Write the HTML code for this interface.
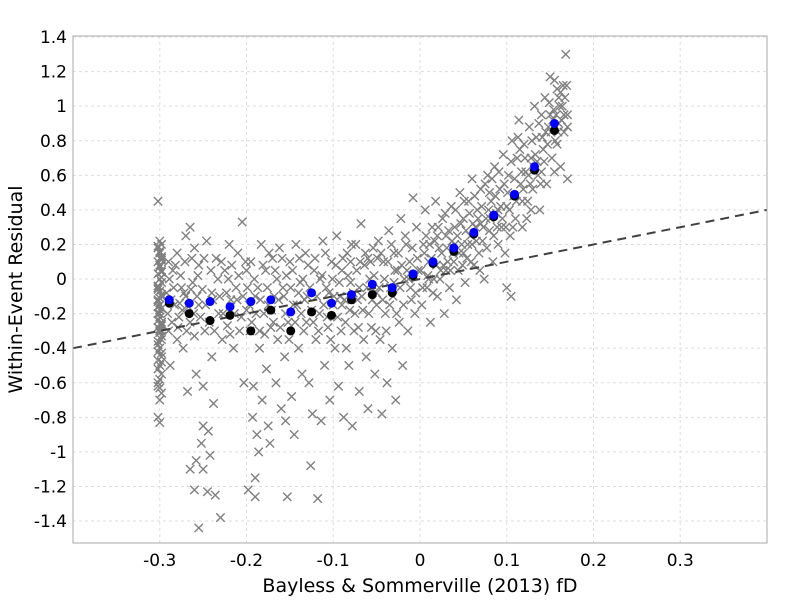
<!DOCTYPE html>
<html><head><meta charset="utf-8"><style>
body{margin:0;background:#fff}
svg text{font-family:"DejaVu Sans","Liberation Sans",sans-serif;fill:#000}
</style></head><body>
<svg id="chart" width="800" height="600"></svg>
<script>
const xTicks=[-0.3,-0.2,-0.1,0,0.1,0.2,0.3];
const yTicks=[-1.4,-1.2,-1,-0.8,-0.6,-0.4,-0.2,0,0.2,0.4,0.6,0.8,1,1.2,1.4];
const binX=[-0.289,-0.266,-0.242,-0.219,-0.195,-0.172,-0.149,-0.125,-0.102,-0.079,-0.055,-0.032,-0.008,0.015,0.039,0.062,0.085,0.109,0.132,0.155];
const binMeanBlue=[-0.12,-0.14,-0.13,-0.16,-0.13,-0.12,-0.19,-0.08,-0.14,-0.09,-0.03,-0.05,0.03,0.10,0.18,0.27,0.37,0.49,0.65,0.90];
const binMeanBlack=[-0.14,-0.20,-0.24,-0.21,-0.30,-0.18,-0.30,-0.19,-0.21,-0.12,-0.09,-0.08,0.02,0.09,0.16,0.26,0.36,0.48,0.63,0.86];
const trendX=[-0.4,0.4];
const trendY=[-0.4,0.4];
const colY=[0.45,0.22,0.2,0.18,0.15,0.12,0.1,0.08,0.05,0.03,0,-0.02,-0.05,-0.07,-0.1,-0.12,-0.15,-0.17,-0.2,-0.22,-0.25,-0.28,-0.3,-0.33,-0.36,-0.4,-0.43,-0.47,-0.5,-0.55,-0.6,-0.63,-0.66,-0.8,-0.83,0.13,-0.04,-0.18,-0.27,-0.38,0.07,-0.09,-0.24,0.16,0.01,-0.13,-0.31,-0.45,-0.52,-0.58,0.11,-0.06,-0.2,-0.35,0.19,-0.11,-0.26,-0.42,-0.7,0.04,-0.16,-0.29,-0.48,-0.62];
const scatterPts=[[-0.29,0.1],[-0.29,-0.3],[-0.288,-0.5],[-0.285,0.05],[-0.283,-0.15],[-0.28,-0.35],[-0.28,0.15],[-0.278,-0.22],[-0.275,-0.05],[-0.273,-0.4],[-0.27,0.25],[-0.27,-0.1],[-0.268,-0.65],[-0.265,0.3],[-0.265,-0.25],[-0.262,-0.02],[-0.26,0.18],[-0.26,-0.33],[-0.258,-0.55],[-0.255,-0.15],[-0.255,0.08],[-0.252,-0.95],[-0.25,-1.1],[-0.25,-0.62],[-0.248,-0.3],[-0.246,0.22],[-0.245,-1.23],[-0.244,-0.88],[-0.242,-1.02],[-0.24,-0.08],[-0.24,-0.45],[-0.238,-0.72],[-0.236,-1.25],[-0.235,0.12],[-0.232,-0.2],[-0.23,-1.38],[-0.228,-0.35],[-0.225,0.05],[-0.222,-0.27],[-0.22,0.2],[-0.218,-0.12],[-0.215,-0.4],[-0.212,-0.05],[-0.21,0.15],[-0.208,-0.3],[-0.205,0.33],[-0.203,-0.6],[-0.2,-0.18],[-0.255,-1.44],[-0.26,-1.22],[-0.258,-1.05],[-0.25,-0.85],[-0.265,-1.1],
[-0.198,-1.22],[-0.196,-0.3],[-0.195,0.1],[-0.193,-0.8],[-0.192,-0.62],[-0.19,-1.15],[-0.19,-1.26],[-0.188,-0.9],[-0.187,-0.05],[-0.186,-1.0],[-0.185,-0.4],[-0.183,0.2],[-0.182,-0.7],[-0.18,-0.2],[-0.178,0.05],[-0.177,-0.52],[-0.175,-0.85],[-0.173,-0.95],[-0.172,-0.28],[-0.17,0.12],[-0.168,-0.1],[-0.166,-0.6],[-0.164,-0.35],[-0.162,0.18],[-0.16,-0.75],[-0.158,-0.05],[-0.156,-0.45],[-0.155,-0.82],[-0.153,-1.26],[-0.152,-0.25],[-0.15,0.1],[-0.148,-0.68],[-0.146,-0.15],[-0.145,-0.9],[-0.143,0.2],[-0.14,-0.4],[-0.138,-0.02],[-0.136,-0.55],[-0.134,-0.3],[-0.132,0.15],[-0.13,-0.1],[-0.128,-0.6],[-0.126,-1.08],[-0.124,-0.78],[-0.122,0.05],[-0.12,-0.35],[-0.118,-1.27],[-0.116,-0.2],[-0.114,-0.82],[-0.112,0.22],[-0.11,-0.5],[-0.108,-0.05],[-0.106,-0.28],[-0.104,-0.7],[-0.102,0.1],[-0.1,-0.15],[-0.19,-0.1],[-0.175,-0.15],[-0.165,0.0],[-0.155,-0.2],[-0.14,-0.08],[-0.125,-0.18],[-0.115,0.0],[-0.2,0.05],[-0.185,-0.3],
[-0.098,-0.4],[-0.096,0.25],[-0.094,-0.62],[-0.092,-0.1],[-0.09,0.05],[-0.088,-0.8],[-0.086,-0.25],[-0.084,0.15],[-0.082,-0.5],[-0.08,-0.02],[-0.078,-0.85],[-0.076,-0.3],[-0.074,0.2],[-0.072,-0.12],[-0.07,-0.65],[-0.068,0.32],[-0.066,-0.18],[-0.064,0.08],[-0.062,-0.45],[-0.06,-0.75],[-0.058,0.0],[-0.056,-0.28],[-0.054,0.18],[-0.052,-0.55],[-0.05,-0.08],[-0.048,0.22],[-0.046,-0.35],[-0.044,-0.78],[-0.042,0.1],[-0.04,-0.2],[-0.038,-0.6],[-0.036,0.28],[-0.034,-0.05],[-0.032,-0.4],[-0.03,0.15],[-0.028,-0.7],[-0.026,0.05],[-0.024,-0.25],[-0.022,0.35],[-0.02,-0.5],[-0.018,0.0],[-0.016,0.2],[-0.014,-0.3],[-0.012,0.1],[-0.01,-0.12],[-0.008,0.47],[-0.006,-0.2],[-0.004,0.3],[-0.002,0.05],[-0.09,-0.15],[-0.07,-0.05],[-0.05,-0.15],[-0.03,-0.02],[-0.015,0.05],[-0.08,0.1],[-0.06,0.12],
[0.002,-0.15],[0.004,0.2],[0.006,0.4],[0.008,-0.05],[0.01,0.1],[0.012,-0.25],[0.014,0.3],[0.016,0.0],[0.018,0.45],[0.02,-0.1],[0.022,0.18],[0.024,0.05],[0.026,0.35],[0.028,-0.2],[0.03,0.25],[0.032,0.1],[0.034,-0.05],[0.036,0.42],[0.038,0.15],[0.04,0.3],[0.042,-0.12],[0.044,0.05],[0.046,0.5],[0.048,0.2],[0.05,0.35],[0.052,-0.02],[0.054,0.12],[0.056,0.45],[0.058,0.25],[0.06,0.58],[0.062,0.08],[0.064,0.3],[0.066,0.4],[0.068,0.15],[0.07,0.52],[0.072,0.22],[0.074,0.0],[0.076,0.35],[0.078,0.6],[0.08,0.28],[0.082,0.45],[0.084,0.1],[0.086,0.65],[0.088,0.38],[0.09,0.2],[0.092,0.52],[0.094,0.3],[0.096,0.72],[0.098,0.15],[0.1,0.42],[0.01,0.0],[0.03,0.05],[0.05,0.15],[0.07,0.32],[0.09,0.4],[0.02,0.25],[0.04,0.2],[0.06,0.2],[0.08,0.5],[0.1,-0.05],[0.105,-0.1],
[0.102,0.6],[0.104,0.25],[0.106,0.8],[0.108,0.48],[0.11,0.35],[0.112,0.7],[0.114,0.92],[0.116,0.55],[0.118,0.3],[0.12,0.78],[0.122,0.62],[0.124,0.45],[0.126,0.88],[0.128,0.7],[0.13,0.52],[0.132,1.0],[0.134,0.82],[0.136,0.6],[0.138,0.4],[0.14,0.95],[0.142,0.75],[0.144,1.05],[0.146,0.55],[0.148,0.88],[0.15,1.17],[0.152,0.7],[0.154,0.98],[0.156,0.8],[0.158,1.1],[0.16,0.9],[0.162,0.65],[0.164,1.0],[0.166,0.85],[0.168,1.3],[0.17,0.95],[0.17,0.58],[0.165,1.12],[0.155,0.62],[0.145,0.85],[0.135,0.68],[0.125,0.6],[0.115,0.75],[0.15,0.95],[0.16,1.05],[0.17,0.88],[0.155,1.15],[0.118,0.45],[0.128,0.4],[0.14,0.62]];
const extraPts=[[-0.292,-0.08],[-0.291,-0.2],[-0.289,0.0],[-0.287,-0.12],[-0.286,-0.25],[-0.284,-0.05],[-0.282,0.08],[-0.279,-0.28],[-0.277,-0.14],[-0.276,0.02],[-0.274,-0.18],[-0.272,-0.08],[-0.271,0.1],[-0.269,-0.3],[-0.267,-0.16],[-0.264,-0.06],[-0.263,0.12],[-0.261,-0.2],[-0.257,-0.1],[-0.256,0.02],[-0.253,-0.22],[-0.251,-0.06],[-0.249,0.12],[-0.247,-0.15],[-0.243,-0.25],[-0.241,0.05],[-0.239,-0.12],[-0.237,-0.3],[-0.233,0.0],[-0.231,-0.1],[-0.229,0.1],[-0.227,-0.2],[-0.223,-0.08],[-0.221,0.0],[-0.219,-0.32],[-0.217,0.08],[-0.214,-0.2],[-0.211,-0.12],[-0.209,0.02],[-0.206,-0.22],[-0.204,-0.1],[-0.201,0.1],
[-0.199,-0.05],[-0.197,-0.15],[-0.194,-0.25],[-0.191,0.0],[-0.189,-0.2],[-0.184,-0.12],[-0.181,0.08],[-0.179,-0.32],[-0.176,-0.05],[-0.174,0.15],[-0.171,-0.18],[-0.169,-0.25],[-0.167,0.05],[-0.163,-0.12],[-0.161,-0.28],[-0.159,0.12],[-0.157,-0.1],[-0.154,0.02],[-0.151,-0.35],[-0.149,-0.05],[-0.147,0.05],[-0.144,-0.25],[-0.142,-0.15],[-0.139,0.12],[-0.137,-0.2],[-0.135,0.0],[-0.133,-0.12],[-0.131,-0.25],[-0.129,0.08],[-0.127,-0.05],[-0.123,-0.25],[-0.121,0.12],[-0.119,-0.1],[-0.117,-0.3],[-0.113,0.02],[-0.111,-0.15],[-0.109,0.15],[-0.107,-0.22],[-0.105,-0.08],[-0.103,-0.35],[-0.101,0.0],
[-0.099,-0.1],[-0.097,0.08],[-0.095,-0.22],[-0.093,-0.02],[-0.091,-0.3],[-0.089,0.12],[-0.087,-0.12],[-0.085,-0.4],[-0.083,0.02],[-0.081,-0.18],[-0.079,0.2],[-0.077,-0.08],[-0.075,-0.2],[-0.073,0.05],[-0.071,-0.28],[-0.069,0.1],[-0.067,-0.1],[-0.065,-0.35],[-0.063,0.15],[-0.061,-0.05],[-0.059,-0.2],[-0.057,0.1],[-0.055,-0.12],[-0.053,0.02],[-0.051,-0.3],[-0.049,0.12],[-0.047,-0.05],[-0.045,0.15],[-0.043,-0.12],[-0.041,0.0],[-0.039,-0.3],[-0.037,0.1],[-0.035,-0.15],[-0.033,0.2],[-0.031,-0.1],[-0.029,0.05],[-0.027,-0.2],[-0.025,0.15],[-0.023,-0.05],[-0.021,0.08],[-0.019,-0.15],[-0.017,0.25],[-0.013,0.0],[-0.011,-0.05],[-0.009,0.18],[-0.007,0.02],[-0.005,-0.08],[-0.003,0.12],
[0.001,0.05],[0.003,-0.05],[0.005,0.15],[0.007,0.25],[0.009,0.02],[0.011,0.2],[0.013,0.12],[0.015,-0.08],[0.017,0.22],[0.019,0.08],[0.021,0.3],[0.023,0.0],[0.025,0.15],[0.027,0.08],[0.029,0.38],[0.031,0.18],[0.033,0.28],[0.035,0.05],[0.037,0.22],[0.039,0.1],[0.041,0.4],[0.043,0.25],[0.045,0.15],[0.047,0.32],[0.049,0.08],[0.051,0.45],[0.053,0.28],[0.055,0.2],[0.057,0.38],[0.059,0.1],[0.061,0.32],[0.063,0.48],[0.065,0.22],[0.067,0.35],[0.069,0.05],[0.071,0.42],[0.073,0.3],[0.075,0.55],[0.077,0.18],[0.079,0.4],[0.081,0.35],[0.083,0.58],[0.085,0.25],[0.087,0.48],[0.089,0.3],[0.091,0.62],[0.093,0.42],[0.095,0.35],[0.097,0.55],[0.099,0.3],
[0.101,0.5],[0.103,0.4],[0.105,0.68],[0.107,0.3],[0.109,0.58],[0.111,0.45],[0.113,0.82],[0.117,0.62],[0.119,0.52],[0.121,0.7],[0.123,0.35],[0.127,0.55],[0.129,0.8],[0.131,0.65],[0.133,0.72],[0.137,0.9],[0.139,0.55],[0.141,0.82],[0.143,0.68],[0.147,0.78],[0.149,1.02],[0.151,0.85],[0.153,0.92],[0.157,0.95],[0.159,0.85],[0.161,1.0],[0.163,0.92],[0.167,1.05],[0.169,1.12],[0.166,0.95],[0.162,1.08],[0.158,0.78]];

const NS="http://www.w3.org/2000/svg";
const svg=document.getElementById('chart');
const L=73,R=767,T=36,B=543,X0=-0.4,X1=0.4,Y0=-1.527,Y1=1.406;
const sx=v=>L+(v-X0)/(X1-X0)*(R-L);
const sy=v=>B-(v-Y0)/(Y1-Y0)*(B-T);
function mk(tag,at,parent){const e=document.createElementNS(NS,tag);for(const k in at)e.setAttribute(k,at[k]);(parent||svg).appendChild(e);return e;}

const grid=mk('g',{});


xTicks.forEach(t=>{const l=mk('line',{x1:sx(t),x2:sx(t),y1:T,y2:B,stroke:'#ddd','stroke-dasharray':'3,3'},grid);


const tx=mk('text',{x:sx(t),y:B+23,'text-anchor':'middle','font-size':'17'});tx.textContent=String(t);

});
yTicks.forEach(t=>{const l=mk('line',{x1:L,x2:R,y1:sy(t),y2:sy(t),stroke:'#ddd','stroke-dasharray':'3,3'},grid);


const tx=mk('text',{x:L-6,y:sy(t)+6,'text-anchor':'end','font-size':'17'});tx.textContent=String(Math.round(t*10)/10);

});

const pts=mk('g',{stroke:'#808080','stroke-width':'1.4'});


function cross(x,y){const px=sx(x),py=sy(y),d=4.2;
const p=mk('path',{d:`M${px-d},${py-d}L${px+d},${py+d}M${px-d},${py+d}L${px+d},${py-d}`},pts);

}
colY.forEach((y,i)=>cross(-0.3+(i%3)*0.002-0.002,y));
scatterPts.forEach(p=>cross(p[0],p[1]));
extraPts.forEach(p=>cross(p[0],p[1]));

const tl=mk('line',{x1:sx(trendX[0]),y1:sy(trendY[0]),x2:sx(trendX[1]),y2:sy(trendY[1]),stroke:'#404040','stroke-width':'2','stroke-dasharray':'9,6'});



binX.forEach((x,i)=>{const c=mk('circle',{cx:sx(x),cy:sy(binMeanBlack[i]),r:4.5,fill:'#000'});

});
binX.forEach((x,i)=>{const c=mk('circle',{cx:sx(x),cy:sy(binMeanBlue[i]),r:4.5,fill:'#0000ff'});

});

const fr=mk('rect',{x:L,y:T,width:R-L,height:B-T,fill:'none',stroke:'#aaa','stroke-width':'1'});


const xl=mk('text',{x:(L+R)/2,y:592,'text-anchor':'middle','font-size':'19'});xl.textContent='Bayless & Sommerville (2013) fD';


const yl=mk('text',{x:0,y:0,'text-anchor':'middle','font-size':'19',transform:`translate(22,${(T+B)/2}) rotate(-90)`});yl.textContent='Within-Event Residual';


</script>
</body></html>
